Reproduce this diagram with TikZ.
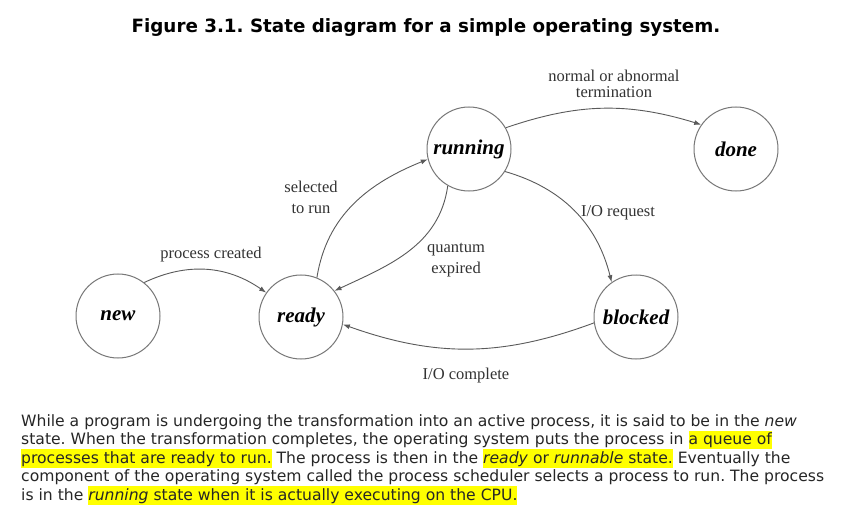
\documentclass[tikz,border=0pt]{standalone}
\usepackage{fontspec}
\setmainfont{DejaVu Sans}
\newfontfamily\bookfont{Liberation Serif}
\usetikzlibrary{arrows.meta}
\definecolor{linegray}{RGB}{90,90,90}
\definecolor{circlegray}{RGB}{120,120,120}
\definecolor{hlyellow}{RGB}{255,255,0}
\newcommand{\hlt}[1]{{\setlength{\fboxsep}{0pt}\colorbox{hlyellow}{\rule[-4.5pt]{0pt}{18.5pt}#1}}}
\frenchspacing
\tikzset{
  state/.style={circle, draw=circlegray, line width=1pt, minimum size=84pt, inner sep=0pt,
                font=\bookfont\fontsize{21}{24}\selectfont\bfseries\itshape},
  arrow/.style={-{Latex[length=7pt,width=5pt]}, line width=0.9pt, linegray},
  note/.style={font=\bookfont\fontsize{16.5}{21}\selectfont, align=center, text=black!80},
  para/.style={anchor=base west, inner sep=0pt, font=\fontsize{15.6}{18}\selectfont, text=black!85},
}

\begin{document}
\begin{tikzpicture}[x=1pt,y=1pt]
\fill[white] (0,0) rectangle (844,-516);
\useasboundingbox (0,0) rectangle (844,-516);

\node[anchor=base, font=\bfseries\fontsize{18.3}{22}\selectfont] (title) at (426,-33)
  {Figure 3.1. State diagram for a simple operating system.};

% states
\node[state] (new) at (118,-316) {new};
\node[state] (ready) at (301,-317) {ready};
\node[state] (running) at (469,-149) {running};
\node[state] (done) at (736,-149) {done};
\node[state] (blocked) at (636,-317) {blocked};

% transitions
\draw[arrow] (new.52) to[bend left=30] (ready.145);
\draw[arrow] (ready.68) to[out=81,in=202] (running.194);
\draw[arrow] (running.240) to[out=262,in=25] (ready.38);
\draw[arrow] (running.30) to[bend left=18] (done.145);
\draw[arrow] (running.-32) to[bend left=30] (blocked.125);
\draw[arrow] (blocked.188) to[bend left=20] (ready.-10);

\node[note] (lcreated) at (211,-255) {process created};
\node[note] (lselected) at (311,-197) {selected\\to run};
\node[note] (lquantum) at (456,-260) {quantum\\expired};
\node[note, font=\bookfont\fontsize{16.5}{16}\selectfont] (lterm) at (614,-84) {normal or abnormal\\termination};
\node[note] (lrequest) at (618,-213) {I/O request};
\node[note] (lcomplete) at (466,-376) {I/O complete};

% text below the figure
\node[para] (p1) at (21,-426) {While a program is undergoing the transformation into an active process, it is said to be in the \textit{new}};
\node[para] (p2) at (21,-444.5) {state. When the transformation completes, the operating system puts the process in \hlt{a queue of}};
\node[para] (p3) at (21,-463) {\hlt{processes that are ready to run.} The process is then in the \hlt{\textit{ready} or \textit{runnable} state.} Eventually the};
\node[para] (p4) at (21,-481.5) {component of the operating system called the process scheduler selects a process to run. The process};
\node[para] (p5) at (21,-500) {is in the \hlt{\textit{running} state when it is actually executing on the CPU.}};
\end{tikzpicture}
\end{document}
